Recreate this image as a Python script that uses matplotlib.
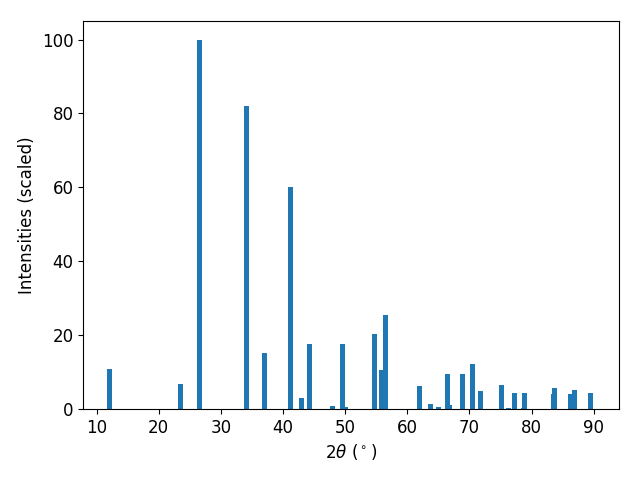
import matplotlib
matplotlib.use('Agg')
import matplotlib.pyplot as plt

# peak positions (2theta, degrees) and scaled intensities
two_theta = [12.1, 23.5, 26.6, 34.1, 37.0, 41.15, 43.05, 44.2, 47.9, 49.65,
             50.0, 54.7, 55.9, 56.55, 62.0, 63.8, 65.05, 66.5, 66.85, 68.9,
             70.5, 71.8, 75.2, 76.3, 77.25, 78.7, 78.85, 83.5, 83.65, 86.25,
             86.9, 89.45]
intensities = [10.9, 6.8, 100.0, 82.0, 15.2, 60.0, 3.0, 17.7, 0.8, 17.6,
               0.5, 20.4, 10.6, 25.5, 6.25, 1.4, 0.5, 9.5, 1.1, 9.5,
               12.2, 4.9, 6.5, 0.3, 4.35, 0.3, 4.35, 4.1, 5.7, 4.1,
               5.2, 4.35]

plt.rcParams['font.size'] = 12

fig = plt.figure(figsize=(6.4, 4.8), dpi=100)
ax = fig.add_subplot()
ax.bar(two_theta, intensities)
ax.set_xlim(7.85, 94.05)
ax.set_xlabel(r'$2\theta$ ($^\circ$)')
ax.set_ylabel('Intensities (scaled)')
fig.subplots_adjust(left=0.130, right=0.967, top=0.956, bottom=0.148)
fig.savefig('out.png', dpi=100)
